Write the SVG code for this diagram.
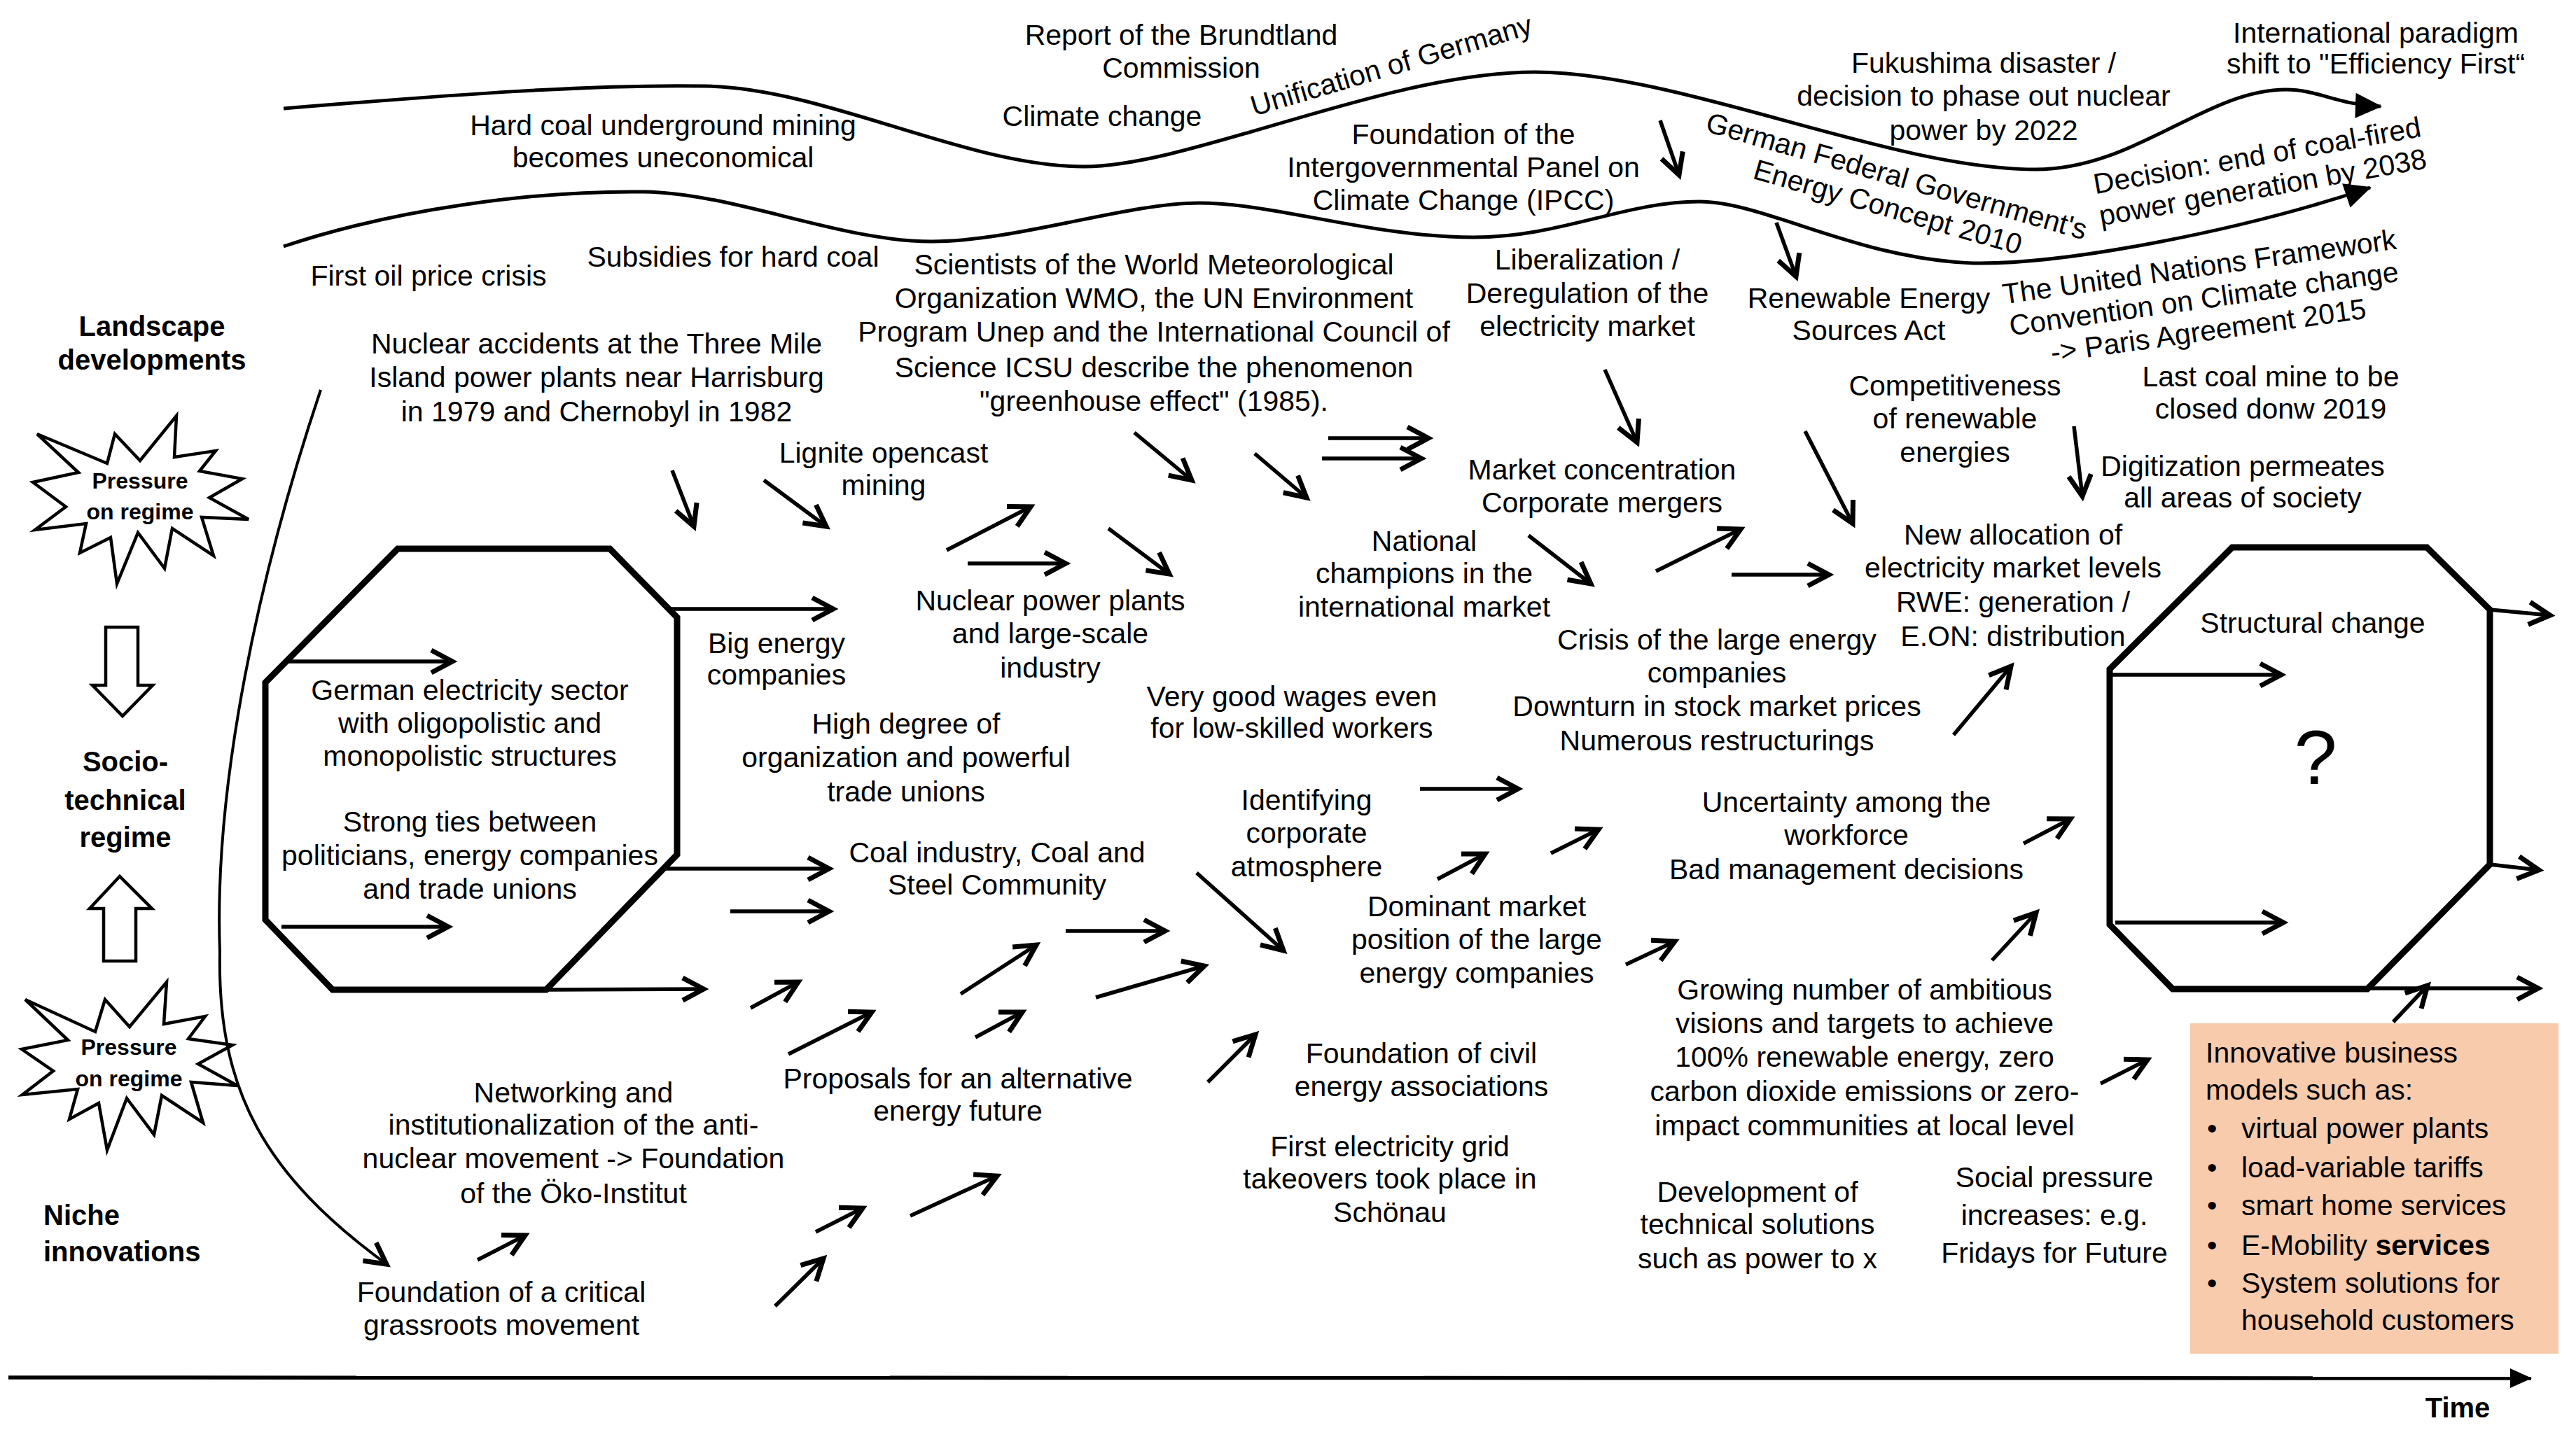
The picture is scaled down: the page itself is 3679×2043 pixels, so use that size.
<svg xmlns="http://www.w3.org/2000/svg" width="3679" height="2043" viewBox="0 0 3679 2043">
<defs>
<style>
.t{font-family:"Liberation Sans",Arial,sans-serif;font-size:41px;fill:#000;text-anchor:middle}
.s{text-anchor:start}
.b{font-weight:bold;font-size:40px}
.sb{font-family:"Liberation Sans",Arial,sans-serif;font-weight:bold;font-size:32px;fill:#000;text-anchor:middle}
.oct{fill:none;stroke:#000;stroke-width:9;stroke-linejoin:miter}
.star{fill:#fff;stroke:#000;stroke-width:4.5;stroke-linejoin:miter}
.blk{fill:#fff;stroke:#000;stroke-width:4.5}
</style>
<marker id="ah" viewBox="0 0 44 40" refX="38" refY="20" markerWidth="44" markerHeight="40" markerUnits="userSpaceOnUse" orient="auto" overflow="visible"><path d="M8,4 L38,20 L8,36" fill="none" stroke="#000" stroke-width="7"/></marker>
<marker id="tri" viewBox="0 0 40 40" refX="36" refY="20" markerWidth="40" markerHeight="40" markerUnits="userSpaceOnUse" orient="auto" overflow="visible"><path d="M0,2 L38,20 L0,38 z" fill="#000"/></marker>
<marker id="tri2" viewBox="0 0 32 30" refX="30" refY="15" markerWidth="32" markerHeight="30" markerUnits="userSpaceOnUse" orient="auto" overflow="visible"><path d="M0,1 L31,15 L0,29 z" fill="#000"/></marker>
</defs>
<rect width="3679" height="2043" fill="#fff"/>

<g id="landscape-band" fill="none" stroke="#000" stroke-width="5">
<path d="M405,155 C650,135 850,120 1008,123 C1180,126 1380,238 1548,238 C1700,238 1980,103 2192,103 C2400,103 2700,242 2907,242 C3050,242 3150,128 3265,128 C3310,128 3340,150 3400,152" marker-end="url(#tri)"/>
<path d="M405,352 C560,300 760,272 920,274 C1050,276 1200,345 1331,345 C1450,345 1610,290 1712,290 C1820,290 1960,339 2104,339 C2230,339 2320,288 2427,288 C2520,288 2650,370 2819,376 C2950,378 3200,330 3385,268" marker-end="url(#tri)"/>
</g>

<g id="time-axis">
<line x1="12" y1="1968" x2="3615" y2="1969" stroke="#000" stroke-width="5.5" marker-end="url(#tri2)"/>
<text class="t b" x="3510" y="2025">Time</text>
</g>

<g id="left-labels">
<text class="t b"><tspan x="217" y="480">Landscape</tspan><tspan x="217" y="528">developments</tspan></text>
<text class="t b"><tspan x="179" y="1102">Socio-</tspan><tspan x="179" y="1157">technical</tspan><tspan x="179" y="1210">regime</tspan></text>
<text class="t b s"><tspan x="62" y="1750">Niche</tspan><tspan x="62" y="1802">innovations</tspan></text>
</g>

<g id="pressure-top">
<polygon class="star" points="53,620 153,662 164,620 200,658 252,594 249,653 308,644 285,673 346,684 299,711 355,742 288,739 305,794 246,755 235,812 197,761 167,834 158,768 114,790 123,748 50,757 94,724 47,689 112,675"/>
<text class="sb"><tspan x="200" y="698">Pressure</tspan><tspan x="200" y="742">on regime</tspan></text>
</g>
<g id="arrow-down-block"><polygon class="blk" points="151,896 197,896 197,979 218,979 175,1023 132,979 151,979"/></g>
<g id="arrow-up-block"><polygon class="blk" points="171,1252 217,1298 194,1298 194,1373 148,1373 148,1298 128,1298"/></g>
<g id="pressure-bottom">
<polygon class="star" points="36,1428 97,1486 31,1499 76,1530 32,1564 111,1556 99,1599 141,1576 153,1643 181,1569 220,1621 231,1565 290,1604 273,1546 339,1551 283,1520 332,1493 269,1484 293,1452 234,1463 238,1403 185,1467 150,1428 136,1474"/>
<text class="sb"><tspan x="184" y="1507">Pressure</tspan><tspan x="184" y="1552">on regime</tspan></text>
</g>

<g id="regime-octagon">
<polygon class="oct" points="568,784 871,784 967,882 967,1221 780,1414 475,1414 379,1314 379,975"/>
<text class="t"><tspan x="671" y="1000">German electricity sector</tspan><tspan x="671" y="1047">with oligopolistic and</tspan><tspan x="671" y="1094">monopolistic structures</tspan></text>
<text class="t"><tspan x="671" y="1188">Strong ties between</tspan><tspan x="671" y="1236">politicians, energy companies</tspan><tspan x="671" y="1284">and trade unions</tspan></text>
</g>

<g id="future-octagon">
<polygon class="oct" points="3188,782 3466,782 3556,871 3556,1235 3381,1413 3103,1413 3013,1321 3013,956"/>
<text class="t" x="3303" y="904">Structural change</text>
<text class="t" x="3307" y="1120" style="font-size:110px">?</text>
</g>

<g id="business-models">
<rect x="3128" y="1462" width="526" height="472" fill="#F8CBAD"/>
<text class="t s"><tspan x="3150" y="1518">Innovative business</tspan><tspan x="3150" y="1571">models such as:</tspan></text>
<text class="t s"><tspan x="3152" y="1626">•</tspan><tspan x="3152" y="1682">•</tspan><tspan x="3152" y="1736">•</tspan><tspan x="3152" y="1793">•</tspan><tspan x="3152" y="1847">•</tspan></text>
<text class="t s"><tspan x="3201" y="1626">virtual power plants</tspan><tspan x="3201" y="1682">load-variable tariffs</tspan><tspan x="3201" y="1736">smart home services</tspan><tspan x="3201" y="1793">E-Mobility <tspan font-weight="bold">services</tspan></tspan><tspan x="3201" y="1847">System solutions for</tspan><tspan x="3201" y="1900">household customers</tspan></text>
</g>

<g id="landscape-texts">
<text class="t"><tspan x="1687" y="64">Report of the Brundtland</tspan><tspan x="1687" y="111">Commission</tspan></text>
<text class="t" x="1574" y="180">Climate change</text>
<text class="t s" transform="translate(1791,166) rotate(-16.5)" x="0" y="0">Unification of Germany</text>
<text class="t"><tspan x="947" y="193">Hard coal underground mining</tspan><tspan x="947" y="239">becomes uneconomical</tspan></text>
<text class="t"><tspan x="2090" y="206">Foundation of the</tspan><tspan x="2090" y="253">Intergovernmental Panel on</tspan><tspan x="2090" y="300">Climate Change (IPCC)</tspan></text>
<text class="t"><tspan x="2833" y="104">Fukushima disaster /</tspan><tspan x="2833" y="151">decision to phase out nuclear</tspan><tspan x="2833" y="200">power by 2022</tspan></text>
<text class="t"><tspan x="3393" y="61">International paradigm</tspan><tspan x="3393" y="105">shift to "Efficiency First“</tspan></text>
<text class="t" transform="translate(2705,265) rotate(16)"><tspan x="0" y="0">German Federal Government's</tspan><tspan x="0" y="46">Energy Concept 2010</tspan></text>
<text class="t" transform="translate(3226,236) rotate(-10)"><tspan x="0" y="0">Decision: end of coal-fired</tspan><tspan x="0" y="46">power generation by 2038</tspan></text>
<text class="t" x="612" y="408">First oil price crisis</text>
<text class="t" x="1047" y="381">Subsidies for hard coal</text>
<text class="t"><tspan x="1648" y="392">Scientists of the World Meteorological</tspan><tspan x="1648" y="440">Organization WMO, the UN Environment</tspan><tspan x="1648" y="488">Program Unep and the International Council of</tspan><tspan x="1648" y="539">Science ICSU describe the phenomenon</tspan><tspan x="1648" y="587">"greenhouse effect" (1985).</tspan></text>
<text class="t"><tspan x="2267" y="385">Liberalization /</tspan><tspan x="2267" y="433">Deregulation of the</tspan><tspan x="2267" y="480">electricity market</tspan></text>
<text class="t"><tspan x="2669" y="440">Renewable Energy</tspan><tspan x="2669" y="486">Sources Act</tspan></text>
<text class="t" transform="translate(3143,395) rotate(-8)"><tspan x="0" y="0">The United Nations Framework</tspan><tspan x="0" y="46">Convention on Climate change</tspan><tspan x="0" y="92">-&gt; Paris Agreement 2015</tspan></text>
<text class="t"><tspan x="2792" y="565">Competitiveness</tspan><tspan x="2792" y="612">of renewable</tspan><tspan x="2792" y="660">energies</tspan></text>
<text class="t"><tspan x="3243" y="552">Last coal mine to be</tspan><tspan x="3243" y="598">closed donw 2019</tspan></text>
<text class="t"><tspan x="3203" y="680">Digitization permeates</tspan><tspan x="3203" y="725">all areas of society</tspan></text>
<text class="t"><tspan x="852" y="505">Nuclear accidents at the Three Mile</tspan><tspan x="852" y="553">Island power plants near Harrisburg</tspan><tspan x="852" y="602">in 1979 and Chernobyl in 1982</tspan></text>
</g>

<g id="regime-texts">
<text class="t"><tspan x="1262" y="661">Lignite opencast</tspan><tspan x="1262" y="707">mining</tspan></text>
<text class="t"><tspan x="2288" y="685">Market concentration</tspan><tspan x="2288" y="732">Corporate mergers</tspan></text>
<text class="t"><tspan x="2034" y="787">National</tspan><tspan x="2034" y="833">champions in the</tspan><tspan x="2034" y="881">international market</tspan></text>
<text class="t"><tspan x="2875" y="778">New allocation of</tspan><tspan x="2875" y="825">electricity market levels</tspan><tspan x="2875" y="874">RWE: generation /</tspan><tspan x="2875" y="923">E.ON: distribution</tspan></text>
<text class="t"><tspan x="1109" y="933">Big energy</tspan><tspan x="1109" y="978">companies</tspan></text>
<text class="t"><tspan x="1500" y="872">Nuclear power plants</tspan><tspan x="1500" y="919">and large-scale</tspan><tspan x="1500" y="968">industry</tspan></text>
<text class="t"><tspan x="1845" y="1009">Very good wages even</tspan><tspan x="1845" y="1054">for low-skilled workers</tspan></text>
<text class="t"><tspan x="1294" y="1048">High degree of</tspan><tspan x="1294" y="1096">organization and powerful</tspan><tspan x="1294" y="1145">trade unions</tspan></text>
<text class="t"><tspan x="2452" y="928">Crisis of the large energy</tspan><tspan x="2452" y="975">companies</tspan><tspan x="2452" y="1023">Downturn in stock market prices</tspan><tspan x="2452" y="1072">Numerous restructurings</tspan></text>
<text class="t"><tspan x="1866" y="1157">Identifying</tspan><tspan x="1866" y="1204">corporate</tspan><tspan x="1866" y="1252">atmosphere</tspan></text>
<text class="t"><tspan x="1424" y="1232">Coal industry, Coal and</tspan><tspan x="1424" y="1278">Steel Community</tspan></text>
<text class="t"><tspan x="2109" y="1309">Dominant market</tspan><tspan x="2109" y="1356">position of the large</tspan><tspan x="2109" y="1404">energy companies</tspan></text>
<text class="t"><tspan x="2637" y="1160">Uncertainty among the</tspan><tspan x="2637" y="1207">workforce</tspan><tspan x="2637" y="1256">Bad management decisions</tspan></text>
</g>

<g id="niche-texts">
<text class="t"><tspan x="2663" y="1428">Growing number of ambitious</tspan><tspan x="2663" y="1476">visions and targets to achieve</tspan><tspan x="2663" y="1524">100% renewable energy, zero</tspan><tspan x="2663" y="1573">carbon dioxide emissions or zero-</tspan><tspan x="2663" y="1622">impact communities at local level</tspan></text>
<text class="t"><tspan x="2030" y="1519">Foundation of civil</tspan><tspan x="2030" y="1566">energy associations</tspan></text>
<text class="t"><tspan x="1985" y="1652">First electricity grid</tspan><tspan x="1985" y="1698">takeovers took place in</tspan><tspan x="1985" y="1746">Schönau</tspan></text>
<text class="t"><tspan x="2510" y="1717">Development of</tspan><tspan x="2510" y="1763">technical solutions</tspan><tspan x="2510" y="1812">such as power to x</tspan></text>
<text class="t"><tspan x="2934" y="1696">Social pressure</tspan><tspan x="2934" y="1750">increases: e.g.</tspan><tspan x="2934" y="1804">Fridays for Future</tspan></text>
<text class="t"><tspan x="1368" y="1555">Proposals for an alternative</tspan><tspan x="1368" y="1601">energy future</tspan></text>
<text class="t"><tspan x="819" y="1575">Networking and</tspan><tspan x="819" y="1621">institutionalization of the anti-</tspan><tspan x="819" y="1669">nuclear movement -&gt; Foundation</tspan><tspan x="819" y="1719">of the Öko-Institut</tspan></text>
<text class="t"><tspan x="716" y="1860">Foundation of a critical</tspan><tspan x="716" y="1907">grassroots movement</tspan></text>
</g>

<g id="connectors" fill="none" stroke="#000" stroke-width="5.5">
<path d="M458,557 C370,820 305,1120 314,1360 C310,1560 380,1680 552,1806" stroke-width="4" marker-end="url(#ah)"/>
<line x1="411" y1="945" x2="646" y2="945" marker-end="url(#ah)"/>
<line x1="402" y1="1324" x2="640" y2="1324" marker-end="url(#ah)"/>
<line x1="3013" y1="964" x2="3258" y2="964" marker-end="url(#ah)"/>
<line x1="3021" y1="1318" x2="3261" y2="1318" marker-end="url(#ah)"/>
<line x1="3556" y1="871" x2="3642" y2="879" marker-end="url(#ah)"/>
<line x1="3556" y1="1235" x2="3626" y2="1243" marker-end="url(#ah)"/>
<line x1="3381" y1="1412" x2="3625" y2="1412" marker-end="url(#ah)"/>
<line x1="958" y1="870" x2="1190" y2="870" marker-end="url(#ah)"/>
<line x1="950" y1="1241" x2="1184" y2="1241" marker-end="url(#ah)"/>
<line x1="1043" y1="1302" x2="1184" y2="1302" marker-end="url(#ah)"/>
<line x1="780" y1="1414" x2="1005" y2="1413" marker-end="url(#ah)"/>
<line x1="2371" y1="172" x2="2398" y2="250" marker-end="url(#ah)"/>
<line x1="2537" y1="318" x2="2565" y2="395" marker-end="url(#ah)"/>
<line x1="2292" y1="528" x2="2338" y2="632" marker-end="url(#ah)"/>
<line x1="1897" y1="626" x2="2040" y2="626" marker-end="url(#ah)"/>
<line x1="1888" y1="655" x2="2030" y2="655" marker-end="url(#ah)"/>
<line x1="1620" y1="618" x2="1702" y2="686" marker-end="url(#ah)"/>
<line x1="1792" y1="648" x2="1866" y2="711" marker-end="url(#ah)"/>
<line x1="960" y1="672" x2="991" y2="752" marker-end="url(#ah)"/>
<line x1="1091" y1="686" x2="1180" y2="752" marker-end="url(#ah)"/>
<line x1="1352" y1="786" x2="1472" y2="724" marker-end="url(#ah)"/>
<line x1="1382" y1="805" x2="1522" y2="805" marker-end="url(#ah)"/>
<line x1="1583" y1="755" x2="1670" y2="820" marker-end="url(#ah)"/>
<line x1="2183" y1="765" x2="2272" y2="834" marker-end="url(#ah)"/>
<line x1="2365" y1="816" x2="2486" y2="756" marker-end="url(#ah)"/>
<line x1="2473" y1="821" x2="2612" y2="821" marker-end="url(#ah)"/>
<line x1="2578" y1="616" x2="2646" y2="748" marker-end="url(#ah)"/>
<line x1="2962" y1="609" x2="2974" y2="709" marker-end="url(#ah)"/>
<line x1="2790" y1="1050" x2="2872" y2="952" marker-end="url(#ah)"/>
<line x1="2890" y1="1205" x2="2957" y2="1170" marker-end="url(#ah)"/>
<line x1="2845" y1="1372" x2="2908" y2="1304" marker-end="url(#ah)"/>
<line x1="3000" y1="1548" x2="3067" y2="1514" marker-end="url(#ah)"/>
<line x1="3418" y1="1460" x2="3467" y2="1408" marker-end="url(#ah)"/>
<line x1="2028" y1="1127" x2="2168" y2="1127" marker-end="url(#ah)"/>
<line x1="2053" y1="1256" x2="2121" y2="1220" marker-end="url(#ah)"/>
<line x1="2215" y1="1219" x2="2283" y2="1185" marker-end="url(#ah)"/>
<line x1="2322" y1="1378" x2="2392" y2="1345" marker-end="url(#ah)"/>
<line x1="1709" y1="1247" x2="1833" y2="1358" marker-end="url(#ah)"/>
<line x1="1522" y1="1330" x2="1664" y2="1330" marker-end="url(#ah)"/>
<line x1="1372" y1="1420" x2="1480" y2="1350" marker-end="url(#ah)"/>
<line x1="1565" y1="1425" x2="1720" y2="1380" marker-end="url(#ah)"/>
<line x1="1072" y1="1440" x2="1140" y2="1403" marker-end="url(#ah)"/>
<line x1="1126" y1="1506" x2="1245" y2="1446" marker-end="url(#ah)"/>
<line x1="1393" y1="1482" x2="1460" y2="1446" marker-end="url(#ah)"/>
<line x1="1725" y1="1546" x2="1793" y2="1478" marker-end="url(#ah)"/>
<line x1="1300" y1="1737" x2="1424" y2="1680" marker-end="url(#ah)"/>
<line x1="1165" y1="1760" x2="1232" y2="1726" marker-end="url(#ah)"/>
<line x1="1107" y1="1866" x2="1176" y2="1798" marker-end="url(#ah)"/>
<line x1="682" y1="1800" x2="750" y2="1765" marker-end="url(#ah)"/>
</g>
</svg>
